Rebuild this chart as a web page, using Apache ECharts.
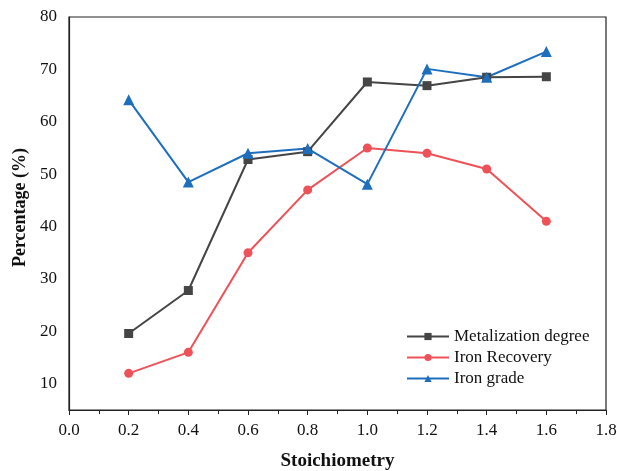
<!DOCTYPE html>
<html>
<head>
<meta charset="utf-8">
<script src="https://cdn.jsdelivr.net/npm/echarts@6/dist/echarts.min.js"></script>
<style>
  html, body { margin: 0; padding: 0; background: #fff; }
  #chart { width: 617px; height: 471px; }
</style>
</head>
<body>
<div id="chart"></div>
<script>
const stoich = [0.2, 0.4, 0.6, 0.8, 1.0, 1.2, 1.4, 1.6];
const metalization = [19.6, 27.8, 52.8, 54.3, 67.6, 66.9, 68.5, 68.6];
const ironRecovery = [12, 16, 35, 47, 55, 54, 51, 41];
const ironGrade = [64.2, 48.5, 54, 54.9, 48.1, 70.1, 68.5, 73.4];

const serif = 'Liberation Serif';
const pairs = arr => stoich.map((x, i) => [x, arr[i]]);

const chart = echarts.init(document.getElementById('chart'));

const option = {
  animation: false,
  textStyle: { fontFamily: serif },
  grid: {
    left: 69, right: 11, top: 17, bottom: 61,
    outerBoundsMode: 'none',
    show: true, borderColor: '#222', borderWidth: 1.2
  },
  legend: {
    orient: 'vertical',
    left: 401,
    top: 323,
    itemWidth: 42,
    itemHeight: 9,
    itemGap: 4,
    textStyle: { fontFamily: serif, fontSize: 17, color: '#111' },
    data: ['Metalization degree', 'Iron Recovery', 'Iron grade']
  },
  xAxis: {
    type: 'value',
    min: 0, max: 1.8, interval: 0.2,
    name: 'Stoichiometry',
    nameLocation: 'middle',
    nameGap: 42,
    nameTextStyle: { fontFamily: serif, fontSize: 19, fontWeight: 'bold', color: '#111' },
    axisLine: { lineStyle: { color: '#222', width: 1.2 } },
    axisTick: { show: true, length: 5, lineStyle: { color: '#222' } },
    minorTick: { show: true, splitNumber: 2, length: 4, lineStyle: { color: '#222' } },
    splitLine: { show: false },
    axisLabel: {
      fontFamily: serif, fontSize: 17, color: '#111', margin: 12,
      formatter: v => v.toFixed(1)
    }
  },
  yAxis: {
    type: 'value',
    min: 5, max: 80, interval: 5,
    name: 'Percentage (%)',
    nameLocation: 'middle',
    nameGap: 37,
    nameTextStyle: {
      fontFamily: serif, fontSize: 18, fontWeight: 'bold', color: '#111',
      padding: [0, 0, 0, 12]
    },
    axisLine: { show: true, lineStyle: { color: '#222', width: 1.2 } },
    axisTick: { show: false },
    splitLine: { show: false },
    axisLabel: {
      fontFamily: serif, fontSize: 17, color: '#111', margin: 12,
      formatter: v => (v % 10 === 0 ? String(v) : '')
    }
  },
  series: [
    {
      name: 'Metalization degree',
      type: 'line',
      data: pairs(metalization),
      symbol: 'rect',
      symbolSize: 9,
      color: '#454545',
      lineStyle: { width: 2, color: '#454545' },
      itemStyle: { color: '#454545' }
    },
    {
      name: 'Iron Recovery',
      type: 'line',
      data: pairs(ironRecovery),
      symbol: 'circle',
      symbolSize: 9,
      color: '#ee5258',
      lineStyle: { width: 2, color: '#ee5258' },
      itemStyle: { color: '#ee5258' }
    },
    {
      name: 'Iron grade',
      type: 'line',
      data: pairs(ironGrade),
      symbol: 'triangle',
      symbolSize: 11,
      color: '#1d6fbe',
      lineStyle: { width: 2, color: '#1d6fbe' },
      itemStyle: { color: '#1d6fbe' }
    }
  ]
};

chart.setOption(option);
</script>
</body>
</html>
